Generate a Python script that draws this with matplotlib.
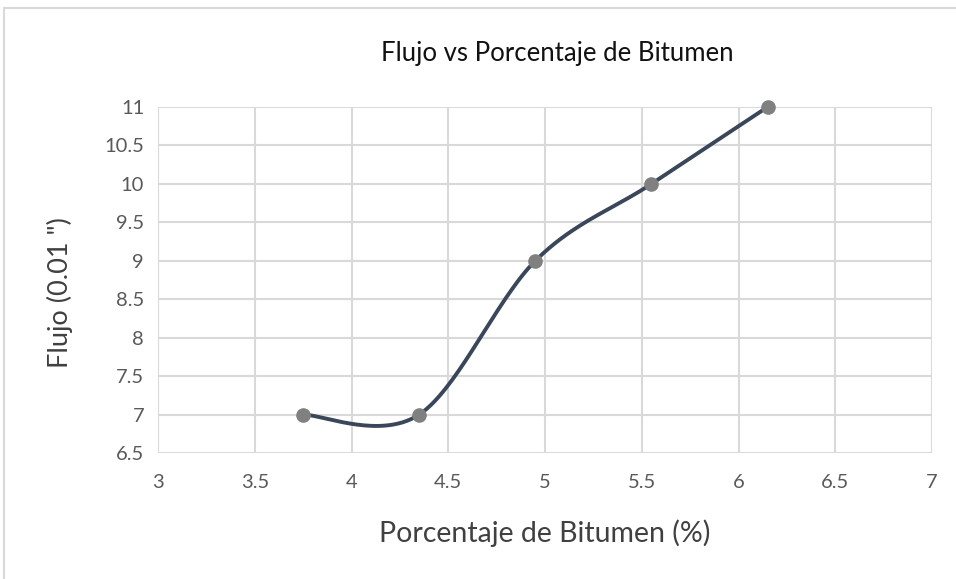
import numpy as np
import matplotlib
matplotlib.use("Agg")
import matplotlib.pyplot as plt
from matplotlib.patches import Rectangle

# Data
bitumen_pct = [3.75, 4.35, 4.95, 5.55, 6.15]
flujo = [7, 7, 9, 10, 11]
x_ticks = [3, 3.5, 4, 4.5, 5, 5.5, 6, 6.5, 7]
y_ticks = [6.5, 7, 7.5, 8, 8.5, 9, 9.5, 10, 10.5, 11]
x_tick_labels = ["3", "3.5", "4", "4.5", "5", "5.5", "6", "6.5", "7"]
y_tick_labels = ["6.5", "7", "7.5", "8", "8.5", "9", "9.5", "10", "10.5", "11"]


def smooth_curve(xs, ys, n=60):
    """Cubic Bezier smoothing through every point (Catmull-Rom tangents)."""
    p = np.column_stack([xs, ys]).astype(float)
    pts = np.vstack([p[0], p, p[-1]])
    out = []
    t = np.linspace(0, 1, n)[:, None]
    for i in range(1, len(pts) - 2):
        p0, p1, p2, p3 = pts[i - 1], pts[i], pts[i + 1], pts[i + 2]
        c1 = p1 + (p2 - p0) / 6.0
        c2 = p2 - (p3 - p1) / 6.0
        seg = ((1 - t) ** 3) * p1 + 3 * ((1 - t) ** 2) * t * c1 \
            + 3 * (1 - t) * t ** 2 * c2 + t ** 3 * p2
        out.append(seg if i == 1 else seg[1:])
    seg = np.vstack(out)
    return seg[:, 0], seg[:, 1]


plt.rcParams["font.family"] = ["Lato", "DejaVu Sans"]

fig = plt.figure(figsize=(9.56, 5.79), dpi=100)
fig.patch.set_facecolor("white")

# chart border
fig.add_artist(Rectangle((4 / 956, -0.1), 1.2, 1 - 8 / 579 + 0.1,
                         transform=fig.transFigure, fill=False,
                         edgecolor="#D9D9D9", linewidth=1.5))

ax = fig.add_axes([158 / 956, 1 - 453 / 579, (932 - 158) / 956, (453 - 107) / 579])
ax.set_xlim(3, 7)
ax.set_ylim(6.5, 11)
ax.set_xticks(x_ticks)
ax.set_xticklabels(x_tick_labels)
ax.set_yticks(y_ticks)
ax.set_yticklabels(y_tick_labels)
ax.grid(True, color="#D9D9D9", linewidth=1.5)
ax.set_axisbelow(True)
for s in ax.spines.values():
    s.set_visible(False)
ax.tick_params(length=0, labelsize=14.5, colors="#595959", pad=10)
ax.tick_params(axis="x", pad=15)

sx, sy = smooth_curve(bitumen_pct, flujo)
ax.plot(sx, sy, color="#3A4659", linewidth=2.8, solid_capstyle="round", zorder=3, clip_on=False)
ax.plot(bitumen_pct, flujo, linestyle="none", marker="o", markersize=9.5,
        markerfacecolor="#808080", markeredgecolor="#808080", zorder=4, clip_on=False)

fig.text(557 / 956, 1 - 54 / 579, "Flujo vs Porcentaje de Bitumen", ha="center", va="center",
         fontsize=18.5, color="#111111")
fig.text(545 / 956, 1 - 533 / 579, "Porcentaje de Bitumen (%)", ha="center", va="center",
         fontsize=20.5, color="#404040")
fig.text(60 / 956, 1 - 293 / 579, "Flujo (0.01 \")", ha="center", va="center",
         fontsize=19.5, color="#404040", rotation=90)

fig.savefig("out.png", dpi=100, facecolor="white")
